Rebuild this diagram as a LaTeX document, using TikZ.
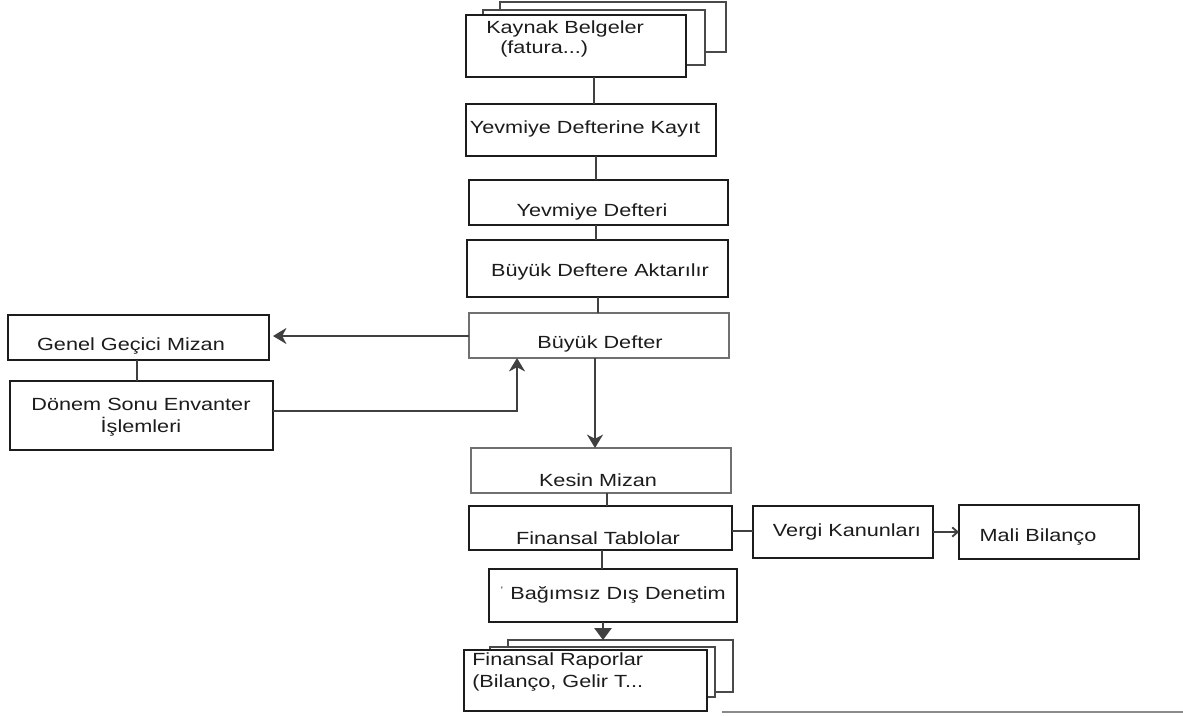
\documentclass[tikz,border=0pt]{standalone}
\usepackage{fontspec}
\setmainfont{Liberation Sans}[FakeStretch=1.23]
\usetikzlibrary{arrows.meta}
\definecolor{ink}{HTML}{1C1C1C}
\definecolor{wirec}{HTML}{404040}
\definecolor{pale}{HTML}{707070}
\definecolor{rule}{HTML}{8A8A8A}

% \flowbox{style}{x1}{y1}{x2}{y2}{name}: a rectangle given by its corners (px)
\newcommand{\flowbox}[6]{%
  \node[#1, minimum width={(#4-#2)*0.75pt}, minimum height={(#5-#3)*0.75pt}]
    (#6) at (#2,#3) {};}

\begin{document}
\begin{tikzpicture}[x=0.75pt, y=-0.75pt,
  box/.style={draw=ink, line width=1.3pt, fill=white, rectangle,
              inner sep=0pt, outer sep=0pt, anchor=north west},
  softbox/.style={box, draw=pale, line width=0.9pt},
  sheet/.style={box, draw=ink!80, line width=1.6pt},
  lbl/.style={inner sep=0pt, text=ink, font=\fontsize{13.2pt}{15pt}\selectfont},
  wire/.style={draw=wirec, line width=1.4pt},
  tip/.style={wire, -{Stealth[length=10pt, width=12pt, inset=3pt]}},
  bigtip/.style={wire, -{Triangle[length=9pt, width=13pt]}},
  barb/.style={wire, -{Straight Barb[length=4pt, width=7pt]}}
]
\useasboundingbox (0,0) rectangle (1183,715);

% --- source documents (stacked sheets) ---
\flowbox{sheet}{500}{2}{726}{52}{kaynakC}
\flowbox{sheet}{483}{10}{705}{65}{kaynakB}
\flowbox{box}{466}{15}{686}{77}{kaynak}
\node[lbl, anchor=west] (kaynakT1) at (486,29) {Kaynak Belgeler};
\node[lbl, anchor=west] (kaynakT2) at (500,49) {(fatura...)};

% --- main column ---
\flowbox{box}{466}{104}{716}{156}{yk}
\node[lbl] (ykT) at (585,129) {Yevmiye Defterine Kayıt};

\flowbox{box}{469}{180}{728}{225}{yd}
\node[lbl] (ydT) at (592,212) {Yevmiye Defteri};

\flowbox{box}{467}{240}{728}{297}{bda}
\node[lbl] (bdaT) at (600,272) {Büyük Deftere Aktarılır};

\flowbox{softbox}{469}{313}{729}{358}{bd}
\node[lbl] (bdT) at (600,344) {Büyük Defter};

\flowbox{box}{8}{315}{269}{360}{ggm}
\node[lbl] (ggmT) at (131,346) {Genel Geçici Mizan};

\flowbox{box}{10}{381}{273}{450}{dse}
\node[lbl, align=center] (dseT) at (141,417) {Dönem Sonu Envanter\\[1.5pt]İşlemleri};

\flowbox{softbox}{471}{448}{731}{493}{km}
\node[lbl] (kmT) at (598,480) {Kesin Mizan};

\flowbox{box}{469}{506}{732}{550}{ft}
\node[lbl] (ftT) at (598,538) {Finansal Tablolar};

\flowbox{box}{753}{506}{933}{558}{vk}
\node[lbl] (vkT) at (847,532) {Vergi Kanunları};

\flowbox{box}{959}{505}{1139}{559}{mb}
\node[lbl] (mbT) at (1038,537) {Mali Bilanço};

\flowbox{box}{489}{569}{737}{622}{bdd}
\node[lbl] (bddT) at (618,595) {Bağımsız Dış Denetim};
\node[lbl, font=\fontsize{7pt}{8pt}\selectfont] (bddTick) at (502,590) {'};

% --- financial reports (stacked sheets) ---
\flowbox{sheet}{508}{640}{733}{692}{frC}
\flowbox{sheet}{490}{647}{715}{697}{frB}
\flowbox{box}{464}{650}{707}{711}{fr}
\node[lbl, anchor=west] (frT1) at (472,661) {Finansal Raporlar};
\node[lbl, anchor=west] (frT2) at (472,683) {(Bilanço, Gelir T...};

% --- connectors ---
\draw[wire] (594,0 |- kaynak.south) -- (594,0 |- yk.north);
\draw[wire] (596,0 |- yk.south) -- (596,0 |- yd.north);
\draw[wire] (596,0 |- yd.south) -- (596,0 |- bda.north);
\draw[wire] (598,0 |- bda.south) -- (598,0 |- bd.north);
\draw[tip] (bd.west |- 0,336) -- ([xshift=3pt]ggm.east |- 0,336);
\draw[wire] (137,0 |- ggm.south) -- (137,0 |- dse.north);
\draw[tip] (dse.east |- 0,411) -- (517,411) -- (517,0 |- bd.south);
\draw[tip] (595,0 |- bd.south) -- (595,0 |- km.north);
\draw[wire] (607,0 |- km.south) -- (607,0 |- ft.north);
\draw[wire] (ft.east |- 0,531) -- (vk.west |- 0,531);
\draw[barb] (vk.east |- 0,532) -- (mb.west |- 0,532);
\draw[wire] (602,0 |- ft.south) -- (602,0 |- bdd.north);
\draw[bigtip] (603,0 |- bdd.south) -- (603,0 |- frC.north);

% --- page rule along the bottom ---
\coordinate (ruleL) at (722,712);
\coordinate (ruleR) at (1183,712);
\draw[draw=rule, line width=1.2pt] (ruleL) -- (ruleR);
\end{tikzpicture}
\end{document}
